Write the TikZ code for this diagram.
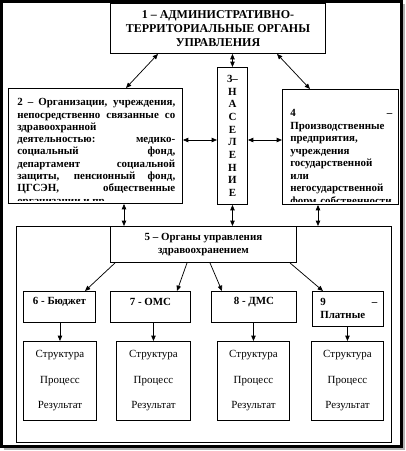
\documentclass[tikz,border=0pt]{standalone}
\usepackage{fontspec}
\setmainfont{Liberation Serif}
\usetikzlibrary{calc,arrows.meta}

\begin{document}
\begin{tikzpicture}[x=0.75pt,y=-0.75pt,>={Triangle[length=4pt,width=3.3pt]},
    box/.style={draw,line width=0.7pt,inner sep=0pt,anchor=north west},
    txt/.style={font=\fontsize{8.2}{9.2}\selectfont\bfseries,inner sep=0pt},
    link/.style={line width=0.55pt}]
    \def\px{0.75pt}
    \useasboundingbox (0,0) rectangle (406,451);
    % frame with shadow
    \fill [gray!60] (4,4) rectangle (405,450);
    \draw [line width=2.2pt,fill=white] (1.6,1.6) rectangle (401.8,446.8);

    % upper level
    \node (ATO) at (110,3) [box,minimum width=215*\px,minimum height=50*\px,align=center,
      font=\fontsize{9}{10.3}\selectfont\bfseries] {1 – АДМИНИСТРАТИВНО-\\ТЕРРИТОРИАЛЬНЫЕ ОРГАНЫ\\УПРАВЛЕНИЯ};

    \node (ORG) at (8,88) [box,minimum width=174*\px,minimum height=115*\px] {};

    \node (NAS) at (217,67) [box,minimum width=30*\px,minimum height=137*\px,txt,align=center,
      font=\fontsize{8.2}{9.5}\selectfont\bfseries] {3–\\Н\\А\\С\\Е\\Л\\Е\\Н\\И\\Е};

    \node (PRED) at (282,89) [box,minimum width=116*\px,minimum height=115*\px] {};

    % texts of 2 and 4 (cut off inside the box)
    \begin{scope}
      \clip ($ (ORG.south west) + (1,-3) $) rectangle ($ (ORG.north east) + (-1,1) $);
      \node (ORGt) at (17,98.4) [txt,anchor=north west,text width=158*\px,align=justify]
        {2 – Организации, учреждения,\linebreak непосредственно связанные со\linebreak
         здравоохранной\newline деятельностью: медико-\linebreak социальный фонд,\linebreak
         департамент социальной\linebreak защиты, пенсионный фонд,\linebreak
         ЦГСЭН, общественные\linebreak организации и пр.};
    \end{scope}
    \begin{scope}
      \clip ($ (PRED.south west) + (1,-3) $) rectangle ($ (PRED.north east) + (-1,1) $);
      \node (PREDt) at (290,109.4) [txt,anchor=north west,text width=102*\px,align=left,
        font=\fontsize{8.2}{9.35}\selectfont\bfseries]
        {4\hfill–\\Производственные\\предприятия,\\учреждения\\государственной\\или\\негосударственной\\форм собственности};
    \end{scope}

    % lower level
    \node (UPRZ) at (16,226) [box,minimum width=375*\px,minimum height=216*\px] {};
    \node (UPR) at (110,226) [box,minimum width=186*\px,minimum height=36*\px,txt,align=center,
      font=\fontsize{8.2}{9.75}\selectfont\bfseries] {5 – Органы управления\\здравоохранением};

    \node (BUD) at (23,291) [box,minimum width=72*\px,minimum height=31*\px] {};
    \node (BUDt) at ($ (BUD.north) + (0,11) $) [txt] {6 - Бюджет};
    \node (OMS) at (110,291) [box,minimum width=80*\px,minimum height=31*\px] {};
    \node (OMSt) at ($ (OMS.north) + (0,11) $) [txt] {7 - ОМС};
    \node (DMS) at (211,291) [box,minimum width=85*\px,minimum height=31*\px] {};
    \node (DMSt) at ($ (DMS.north) + (0,11) $) [txt] {8 - ДМС};
    \node (PLAT) at (312,291) [box,minimum width=71*\px,minimum height=35*\px] {};
    \node (PLATt) at (320,298.4) [txt,anchor=north west,text width=57*\px,align=left,
      font=\fontsize{8.2}{9.75}\selectfont\bfseries] {9\hfill–\\Платные};

    \foreach \n/\x/\w in {1/23/73,2/116/74,3/217/72,4/311/72}
      \node (SPR\n) at (\x,341) [box,minimum width=\w*\px,minimum height=79*\px,align=center,
        font=\fontsize{8.2}{9.4}\selectfont] {Структура\\[9.7pt]Процесс\\[9.7pt]Результат};

    % connections
    \draw [<->,link] ($ (ATO.south west) + (48,0) $) -- ($ (ORG.north west) + (118,0) $);
    \draw [<->,link] (NAS.north |- ATO.south) -- (NAS.north);
    \draw [<->,link] ($ (ATO.south west) + (167,0) $) -- ($ (PRED.north west) + (28,0) $);

    \coordinate (lvl) at (0,140);
    \draw [<->,link] (ORG.east |- lvl) -- (NAS.west |- lvl);
    \draw [<->,link] (NAS.east |- lvl) -- (PRED.west |- lvl);

    \draw [<->,link] ($ (ORG.south west) + (116,0) $) -- ($ (UPRZ.north west) + (108,0) $);
    \draw [<->,link] (NAS.south) -- (NAS.south |- UPRZ.north);
    \draw [<->,link] ($ (PRED.south west) + (36,0) $) -- ($ (UPRZ.north west) + (302,0) $);

    \draw [->,link] ($ (UPR.south west) + (5,0) $) -- ($ (BUD.north west) + (62,0) $);
    \draw [->,link] ($ (UPR.south west) + (77,0) $) -- ($ (OMS.north west) + (67,0) $);
    \draw [->,link] ($ (UPR.south west) + (100,0) $) -- ($ (DMS.north west) + (11,0) $);
    \draw [->,link] ($ (UPR.south west) + (180,0) $) -- ($ (PLAT.north west) + (11,0) $);

    \draw [->,link] (SPR1.north |- BUD.south) -- (SPR1.north);
    \draw [->,link] (SPR2.north |- OMS.south) -- (SPR2.north);
    \draw [->,link] (SPR3.north |- DMS.south) -- (SPR3.north);
    \draw [->,link] (SPR4.north |- PLAT.south) -- (SPR4.north);
\end{tikzpicture}
\end{document}
